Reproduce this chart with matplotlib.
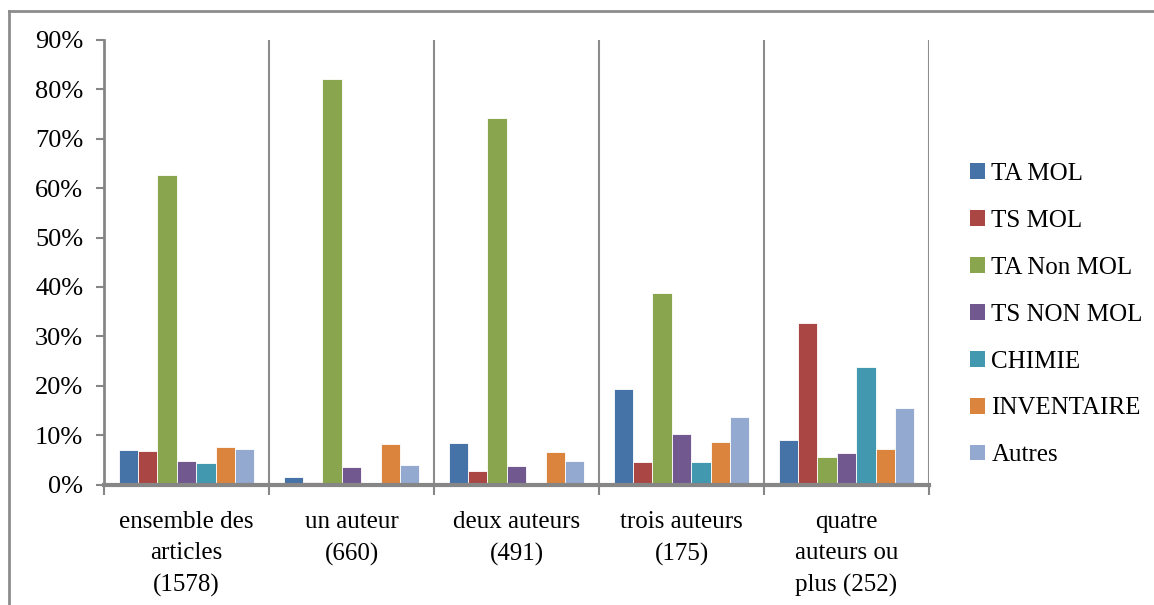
import matplotlib
matplotlib.use("Agg")
import matplotlib.pyplot as plt
import numpy as np
from matplotlib.lines import Line2D
from matplotlib.patches import Patch

plt.rcParams['font.family'] = ['Liberation Serif', 'DejaVu Serif']

categories = ["ensemble des\narticles\n(1578)", "un auteur\n(660)", "deux auteurs\n(491)",
              "trois auteurs\n(175)", "quatre\nauteurs ou\nplus (252)"]
series_names = ["TA MOL", "TS MOL", "TA Non MOL", "TS NON MOL", "CHIMIE", "INVENTAIRE", "Autres"]
ta_mol = [6.9, 1.5, 8.4, 19.4, 9.1]
ts_mol = [6.7, 0.5, 2.7, 4.6, 32.6]
ta_non_mol = [62.7, 82.2, 74.2, 38.8, 5.5]
ts_non_mol = [4.8, 3.6, 3.7, 10.3, 6.3]
chimie = [4.4, 0.0, 0.0, 4.6, 23.8]
inventaire = [7.5, 8.2, 6.5, 8.6, 7.1]
autres = [7.1, 4.0, 4.8, 13.7, 15.5]
series = [ta_mol, ts_mol, ta_non_mol, ts_non_mol, chimie, inventaire, autres]
colors = ["#4572A7", "#AA4643", "#89A54E", "#71588F", "#4198AF", "#DB843D", "#93A9CF"]
yticks = [0, 10, 20, 30, 40, 50, 60, 70, 80, 90]

W, H = 1154, 605
FS = 18
fig = plt.figure(figsize=(W / 100, H / 100), dpi=100)
ax = fig.add_axes([104 / W, (H - 484.5) / H, 825 / W, 444.5 / H])

n = len(series)
bw = 1 / (n + 1.5)
x = np.arange(len(categories))
for i, (vals, c, name) in enumerate(zip(series, colors, series_names)):
    offs = (i - (n - 1) / 2) * bw
    ax.bar(x + offs, vals, width=bw, color=c, edgecolor='white', linewidth=0.6, label=name, zorder=3)

ax.set_xlim(-0.5, len(categories) - 0.5)
ax.set_ylim(0, 90)
ax.set_yticks(yticks)
ax.set_yticklabels([f"{t}%" for t in yticks], fontsize=FS + 1)
ax.set_xticks(x)
ax.set_xticklabels(categories, fontsize=FS, linespacing=1.55)
ax.tick_params(axis='x', length=0, pad=19)
ax.tick_params(axis='y', length=6, width=1.5, color='#868686', pad=9)

# category separators
ax.set_xticks(np.arange(len(categories) + 1) - 0.5, minor=True)
ax.tick_params(axis='x', which='minor', length=7, width=1.5, color='#868686', direction='out')
for b in np.arange(1, len(categories) + 1) - 0.5:
    ax.axvline(b, color='#8c8c8c', linewidth=1.5, zorder=1)

for s in ['top', 'right']:
    ax.spines[s].set_visible(False)
ax.spines['left'].set_color('#868686')
ax.spines['left'].set_linewidth(2)
ax.spines['bottom'].set_color('#868686')
ax.spines['bottom'].set_linewidth(3)
ax.spines['bottom'].set_zorder(5)

handles = [Patch(facecolor=c, edgecolor='none') for c in colors]
leg = fig.legend(handles, series_names, loc='upper left', bbox_to_anchor=(960 / W, 1 - 153 / H),
                 frameon=False, fontsize=FS, handlelength=0.6, handleheight=0.6,
                 handletextpad=0.25, labelspacing=0.995, borderaxespad=0)

# outer chart border (top and left)
fig.add_artist(Line2D([9 / W, 1], [1 - 11 / H, 1 - 11 / H], color='#8c8c8c', linewidth=2,
                      transform=fig.transFigure))
fig.add_artist(Line2D([9 / W, 9 / W], [0, 1 - 11 / H], color='#8c8c8c', linewidth=2,
                      transform=fig.transFigure))

fig.savefig("out.png", dpi=100, facecolor='white')
